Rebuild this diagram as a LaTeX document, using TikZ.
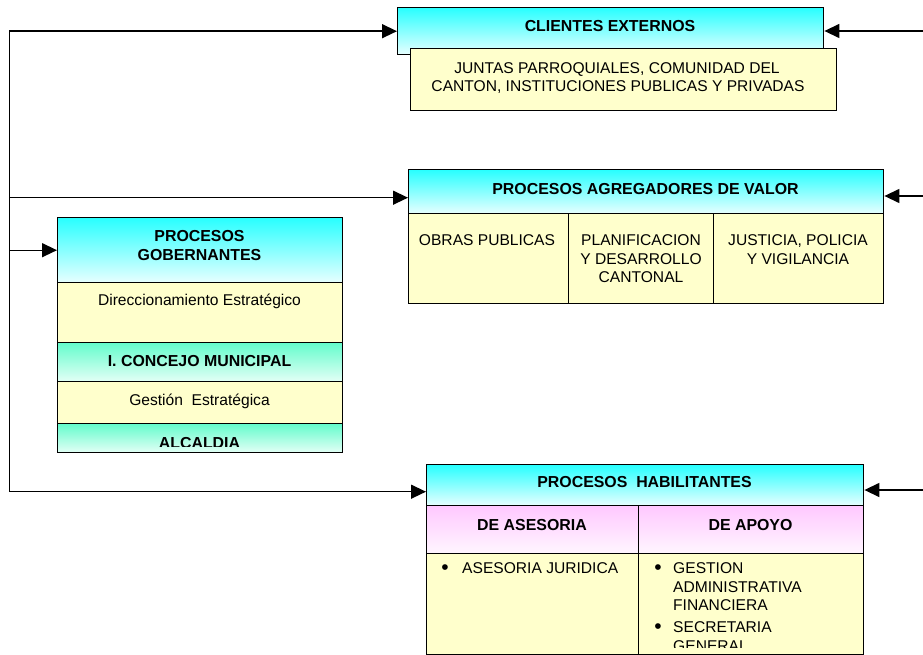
\documentclass[tikz,border=0pt]{standalone}
\usepackage{fontspec}
\setmainfont{Liberation Sans}
\usetikzlibrary{arrows.meta,calc}
\definecolor{cyantop}{RGB}{40,255,255}
\definecolor{cyanbot}{RGB}{232,255,255}
\definecolor{minttop}{RGB}{100,252,204}
\definecolor{mintbot}{RGB}{228,255,246}
\definecolor{pinktop}{RGB}{255,200,255}
\definecolor{pinkbot}{RGB}{255,246,255}
\definecolor{paleyel}{RGB}{255,255,204}
\tikzset{
  bx/.style={draw=black, line width=1.4pt, inner sep=0pt, anchor=north west},
  cyanbox/.style={bx, top color=cyantop, bottom color=cyanbot},
  mintbox/.style={bx, top color=minttop, bottom color=mintbot},
  pinkbox/.style={bx, top color=pinktop, bottom color=pinkbot},
  yelbox/.style={bx, fill=paleyel},
  reg/.style={inner sep=0pt, anchor=base, font=\fontsize{15.6}{18}\selectfont},
  bld/.style={inner sep=0pt, anchor=base, font=\fontsize{15.9}{18}\selectfont\bfseries},
  regl/.style={reg, anchor=base west},
  bul/.style={inner sep=0pt, anchor=base, font=\fontsize{21}{22}\selectfont},
  conn/.style={line width=1.4pt, draw=black},
  arr/.style={conn, -{Triangle[length=15pt,width=14pt]}},
}
\begin{document}
\begin{tikzpicture}[x=1pt,y=-1pt]
\useasboundingbox (0,0) rectangle (923,655);
% ---------- CLIENTES EXTERNOS ----------
\node[cyanbox, minimum width=426pt, minimum height=47pt] (clihead) at (397,7) {};
\node[yelbox, minimum width=426pt, minimum height=62pt] (cliyel) at (410,48) {};
\node[bld] (clit) at (610,31.5) {CLIENTES EXTERNOS};
\node[reg] (clil1) at (617,73.5) {JUNTAS PARROQUIALES, COMUNIDAD DEL};
\node[reg] (clil2) at (618,91.5) {CANTON, INSTITUCIONES PUBLICAS Y PRIVADAS};
% ---------- AGREGADORES DE VALOR ----------
\node[cyanbox, minimum width=475pt, minimum height=44pt] (agrhead) at (408,169) {};
\node[yelbox, minimum width=160pt, minimum height=90pt] (agr1) at (408,213) {};
\node[yelbox, minimum width=145pt, minimum height=90pt] (agr2) at (568,213) {};
\node[yelbox, minimum width=170pt, minimum height=90pt] (agr3) at (713,213) {};
\node[bld] (agrt) at (645.5,194.5) {PROCESOS AGREGADORES DE VALOR};
\node[reg] (obras) at (487,245.5) {OBRAS PUBLICAS};
\node[reg] (plan1) at (641,245.5) {PLANIFICACION};
\node[reg] (plan2) at (641,264) {Y DESARROLLO};
\node[reg] (plan3) at (641,282.5) {CANTONAL};
\node[reg] (just1) at (798,245.5) {JUSTICIA, POLICIA};
\node[reg] (just2) at (798,264) {Y VIGILANCIA};
% ---------- GOBERNANTES ----------
\node[cyanbox, minimum width=285pt, minimum height=65pt] (gobhead) at (57,217) {};
\node[yelbox, minimum width=285pt, minimum height=60pt] (direc) at (57,282) {};
\node[mintbox, minimum width=285pt, minimum height=39pt] (conc) at (57,342) {};
\node[yelbox, minimum width=285pt, minimum height=42pt] (gest) at (57,381) {};
\node[mintbox, minimum width=285pt, minimum height=29pt] (alc) at (57,423) {};
\node[bld] (gob1) at (199.5,241.5) {PROCESOS};
\node[bld] (gob2) at (199.5,260.5) {GOBERNANTES};
\node[reg] (direct) at (199.5,305.5) {Direccionamiento Estratégico};
\node[bld] (conct) at (199.5,366.5) {I. CONCEJO MUNICIPAL};
\node[reg] (gestt) at (199.5,405.5) {Gestión\ \ Estratégica};
\begin{scope}
  \clip ([shift={(0.7pt,-0.7pt)}]alc.north west) rectangle ([shift={(-0.7pt,6.5pt)}]alc.south east);
  \node[bld] (alct) at (199.5,448.5) {ALCALDIA};
\end{scope}
% ---------- HABILITANTES ----------
\node[cyanbox, minimum width=437pt, minimum height=41pt] (habhead) at (426,464) {};
\node[pinkbox, minimum width=212pt, minimum height=48pt] (habases) at (426,505) {};
\node[pinkbox, minimum width=225pt, minimum height=48pt] (habapo) at (638,505) {};
\node[yelbox, minimum width=212pt, minimum height=101pt] (habases2) at (426,553) {};
\node[yelbox, minimum width=225pt, minimum height=101pt] (habapo2) at (638,553) {};
\node[bld] (habt) at (644.5,487.5) {PROCESOS\ \ HABILITANTES};
\node[bld] (asest) at (532,530.5) {DE ASESORIA};
\node[bld] (apot) at (750.5,530.5) {DE APOYO};
\node[bul] (b1) at (445,574) {•};
\node[regl] (ases1) at (462,573.5) {ASESORIA JURIDICA};
\begin{scope}
  \clip ([shift={(0.7pt,-0.7pt)}]habapo2.north west) rectangle ([shift={(-0.7pt,8pt)}]habapo2.south east);
  \node[bul] (b2) at (658,574) {•};
  \node[regl] (apo1) at (673,573.5) {GESTION};
  \node[regl] (apo2) at (673,592.5) {ADMINISTRATIVA};
  \node[regl] (apo3) at (673,610.5) {FINANCIERA};
  \node[bul] (b3) at (658,633) {•};
  \node[regl] (apo4) at (673,632.5) {SECRETARIA};
  \node[regl] (apo5) at (673,651) {GENERAL};
\end{scope}
% ---------- CONNECTORS ----------
\coordinate (agrin) at ([yshift=-6pt]agrhead.west);
\coordinate (habin) at ([yshift=-6.5pt]habhead.west);
\coordinate (trunkBot) at (9.5,0 |- habin);
\coordinate (rcli) at (923,31);
\coordinate (ragr) at (923,196);
\coordinate (rhab) at (923,490);
\draw[conn, {Triangle[length=15pt,width=14pt]}-{Triangle[length=15pt,width=14pt]}]
  (clihead.west) -| (trunkBot) -- (habin);
\draw[arr] (trunkBot |- agrin) -- (agrin);
\draw[arr] (trunkBot |- gobhead.west) -- (gobhead.west);
\draw[arr] (rcli) -- (rcli -| clihead.east);
\draw[arr] (ragr) -- (ragr -| agrhead.east);
\draw[arr] (rhab) -- (rhab -| habhead.east);
\end{tikzpicture}
\end{document}
